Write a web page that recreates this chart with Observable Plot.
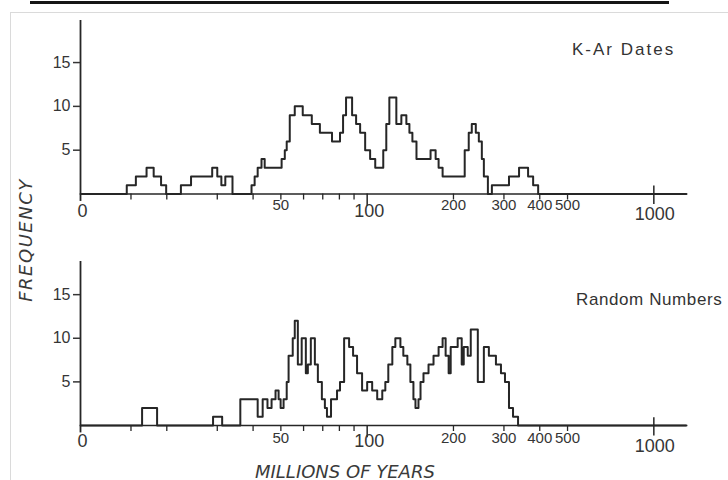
<!DOCTYPE html>
<html><head><meta charset="utf-8">
<script src="https://cdn.jsdelivr.net/npm/d3@7"></script>
<script src="https://cdn.jsdelivr.net/npm/@observablehq/plot@0.6"></script>
<style>
body{margin:0;background:#fff;}
#wrap{position:relative;width:728px;height:480px;overflow:hidden;background:#fff;}
.panel{position:absolute;left:0;}
#rule{position:absolute;left:30px;top:1px;width:639px;height:3px;background:#151515;}
#frame{position:absolute;left:10px;top:12px;width:730px;height:480px;border-top:1px solid #dadada;border-left:1px solid #dadada;}
.title{position:absolute;font-family:"Liberation Sans",sans-serif;font-size:17px;line-height:1;color:#333;white-space:nowrap;}
.axlab{position:absolute;font-family:"DejaVu Sans",sans-serif;font-style:italic;font-size:18px;line-height:1;color:#3a3a3a;white-space:nowrap;}
</style></head>
<body>
<div id="wrap">
  <div id="rule"></div>
  <div id="frame"></div>
</div>
<script>
// ---- data ----
const xTickValues = [10, 50, 100, 200, 300, 400, 500, 1000];
const xTickLabels = ["0", "50", "100", "200", "300", "400", "500", "1000"];
const xMinorTicks = [15, 20, 30, 40, 50, 60, 70, 80, 90, 200, 300, 400, 500];
const yTicks = [5, 10, 15];
const panelTitles = ["K-Ar Dates", "Random Numbers"];
const axisTitles = ["FREQUENCY", "MILLIONS OF YEARS"];

// K-Ar dates histogram: bin left edges (Ma) and counts in each bin
const kArEdges = [14.5, 15.6, 17.0, 18.0, 19.1, 19.9, 22.4, 24.3, 28.8, 30.0, 31.0, 32.0, 33.9,
  39.5, 40.5, 41.5, 42.8, 43.9, 50.3, 51.6, 52.4, 53.7, 55.9, 59.6, 64.1, 68.4, 75.4, 80.4,
  82.4, 84.4, 88.6, 91.5, 94.5, 98.4, 102.4, 106.7, 113.8, 116.6, 119.5, 126.4, 131.6, 137.0,
  140.4, 143.8, 148.6, 166.4, 173.3, 177.5, 183.3, 218.9, 226.1, 231.7, 239.3, 245.2, 251.2,
  255.3, 263.7, 272.3, 312.4, 338.7, 364.2, 379.3, 394.9];
const kArCounts = [1, 2, 3, 2, 1, 0, 1, 2, 3, 2, 1, 2, 0,
  1, 2, 3, 4, 3, 4, 5, 6, 9, 10, 9, 8, 7, 6, 7,
  9, 11, 9, 8, 7, 5, 4, 3, 5, 8, 11, 8, 9, 8,
  7, 6, 4, 5, 4, 3, 2, 5, 7, 8, 7, 6, 4,
  2, 0, 1, 2, 3, 2, 1, 0];

// Random numbers histogram
const rndEdges = [16.4, 18.5, 29.0, 31.2, 36.1, 41.5, 43.2, 44.9, 46.4, 47.9, 49.1, 49.9, 51.1,
  52.4, 53.2, 55.0, 55.9, 57.3, 59.1, 61.1, 62.1, 63.6, 65.7, 67.3, 69.5, 71.2, 72.4, 74.8,
  78.5, 80.4, 83.1, 86.5, 89.3, 92.2, 96.0, 100.0, 104.1, 108.4, 112.9, 115.7, 118.5, 122.4,
  125.4, 130.6, 133.7, 138.1, 141.5, 145.0, 147.4, 151.0, 153.5, 157.2, 163.7, 170.4, 177.5,
  183.3, 187.8, 192.4, 195.6, 206.9, 213.7, 217.2, 224.3, 229.8, 243.2, 255.3, 265.8, 281.3,
  292.9, 302.5, 312.4, 322.7, 336.0];
const rndCounts = [2, 0, 1, 0, 3, 1, 3, 2, 3, 4, 3, 2, 3,
  5, 8, 10, 12, 7, 10, 6, 7, 10, 7, 5, 3, 2, 1, 3,
  4, 5, 10, 9, 8, 6, 4, 5, 4, 3, 4, 5, 7, 9,
  10, 9, 8, 7, 5, 3, 2, 3, 5, 6, 7, 8, 9,
  10, 8, 6, 9, 10, 7, 9, 8, 11, 5, 9, 8, 7,
  6, 5, 2, 1, 0];

// ---- drawing ----
const ink = "#262626", textInk = "#353535";
const X0 = 10, X1 = 1300;
const labels = xTickValues.map((v, i) => ({v, s: xTickLabels[i]}));
const group = s => (s === "1000" ? "end" : (s === "0" || s === "100") ? "big" : "small");

function makePanel({edges, counts, yMax, marginTop, marginBottom, dyBig, dyEnd, dySmall}) {
  const steps = [{t: X0, n: 0}, ...edges.map((e, i) => ({t: e, n: counts[i]})), {t: X1, n: 0}];
  return Plot.plot({
    width: 728, height: 240,
    marginLeft: 80, marginRight: 42, marginTop, marginBottom,
    style: {background: "transparent", fontFamily: "Liberation Sans, sans-serif", overflow: "visible"},
    x: {type: "log", domain: [X0, X1]},
    y: {domain: [0, yMax]},
    marks: [
      Plot.ruleY([0], {x1: X0, x2: X1, stroke: ink, strokeWidth: 1.6}),
      Plot.ruleX([X0], {y1: -0.85, y2: yMax, stroke: ink, strokeWidth: 1.8}),
      Plot.axisY({ticks: yTicks, anchor: "left", tickSize: 7, tickPadding: 3, fontSize: 16,
        color: textInk, strokeWidth: 1.5, label: null}),
      Plot.axisX({ticks: xMinorTicks, anchor: "bottom", tickSize: 6, tickFormat: () => "",
        color: ink, strokeWidth: 1.3, label: null}),
      Plot.ruleX([100], {y1: 0, y2: -1.4, stroke: ink, strokeWidth: 1.5}),
      Plot.ruleX([1000], {y1: 0.9, y2: -1.2, stroke: ink, strokeWidth: 1.5}),
      Plot.text(labels.filter(d => group(d.s) === "big"), {x: "v", text: "s", frameAnchor: "bottom",
        dx: 2, dy: dyBig, fontSize: 18, fill: textInk}),
      Plot.text(labels.filter(d => group(d.s) === "end"), {x: "v", text: "s", frameAnchor: "bottom",
        dx: 1, dy: dyEnd, fontSize: 18, fill: textInk}),
      Plot.text(labels.filter(d => group(d.s) === "small"), {x: "v", text: "s", frameAnchor: "bottom",
        dy: dySmall, fontSize: 15, fill: textInk}),
      Plot.line(steps, {x: "t", y: "n", curve: "step-after", stroke: ink, strokeWidth: 2})
    ]
  });
}

const wrap = document.getElementById("wrap");
const p1 = makePanel({edges: kArEdges, counts: kArCounts, yMax: 19.8, marginTop: 20, marginBottom: 46.5,
  dyBig: 23, dyEnd: 26, dySmall: 16});
p1.classList.add("panel"); p1.style.top = "0px";
wrap.appendChild(p1);
const p2 = makePanel({edges: rndEdges, counts: rndCounts, yMax: 18.8, marginTop: 21, marginBottom: 55,
  dyBig: 21, dyEnd: 26, dySmall: 17});
p2.classList.add("panel"); p2.style.top = "240px";
wrap.appendChild(p2);

function addText(cls, text, css) {
  const d = document.createElement("div");
  d.className = cls; d.textContent = text;
  Object.assign(d.style, css);
  wrap.appendChild(d);
  return d;
}
addText("title", panelTitles[0], {left: "572px", top: "40.5px", letterSpacing: "2px"});
addText("title", panelTitles[1], {left: "576px", top: "290.5px", letterSpacing: "0.6px"});
addText("axlab", axisTitles[0], {left: "26px", top: "240px", letterSpacing: "1.5px",
  transform: "translate(-50%,-50%) rotate(-90deg)"});
addText("axlab", axisTitles[1], {left: "255px", top: "462.5px"});
</script>
</body></html>
